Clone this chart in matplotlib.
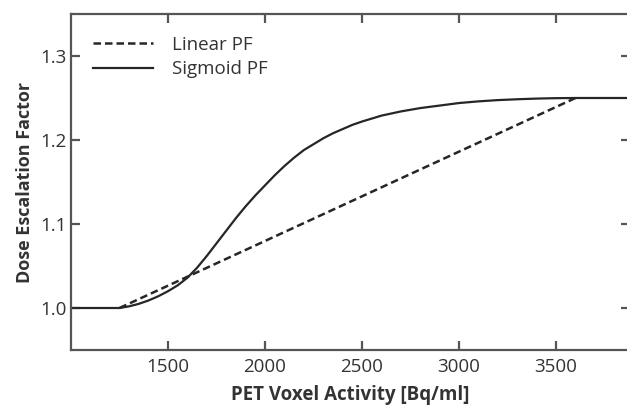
import numpy as np
import matplotlib.pyplot as plt

plt.rcParams['font.family'] = ['Open Sans', 'DejaVu Sans']

# sigmoid prescription function
sig_x = [1000, 1250, 1300, 1350, 1400, 1450, 1500, 1550, 1600, 1650, 1700, 1750,
         1800, 1850, 1900, 1950, 2000, 2050, 2100, 2150, 2200, 2250, 2300, 2350,
         2400, 2450, 2500, 2600, 2700, 2800, 2900, 3000, 3100, 3200, 3300, 3400,
         3500, 3600, 3900]
sig_y = [1.0, 1.0, 1.002, 1.005, 1.009, 1.014, 1.020, 1.027, 1.036, 1.048, 1.062, 1.077,
         1.092, 1.107, 1.121, 1.134, 1.146, 1.158, 1.169, 1.179, 1.188, 1.195, 1.202, 1.208,
         1.213, 1.218, 1.222, 1.229, 1.234, 1.238, 1.241, 1.244, 1.246, 1.2475, 1.2485, 1.2493,
         1.2498, 1.25, 1.25]

# linear prescription function
lin_x = [1250, 3600]
lin_y = [1.0, 1.25]

xticks = [1500, 2000, 2500, 3000, 3500]
yticks = [1.0, 1.1, 1.2, 1.3]

fig = plt.figure(figsize=(6.27, 4.07), dpi=100)
ax = fig.add_axes([71/627, 57/407, 559/627, 336/407])

line_col = '#262626'
ax.plot(lin_x, lin_y, color=line_col, lw=1.8, ls=(0, (3, 1.6)), label='Linear PF')
ax.plot(sig_x, sig_y, color=line_col, lw=1.6, label='Sigmoid PF')

ax.set_xlim(1000, 3881)
ax.set_ylim(0.95, 1.35)
ax.set_xticks(xticks)
ax.set_yticks(yticks)
ax.set_yticklabels(['%.1f' % v for v in yticks])

for s in ax.spines.values():
    s.set_color('#555555')
    s.set_linewidth(1.6)
ax.tick_params(direction='in', length=6.5, width=1.6, color='#555555',
               top=True, right=True, labelsize=13.5, labelcolor='#333333')
ax.tick_params(axis='y', pad=3)
ax.tick_params(axis='x', pad=6)

ax.set_xlabel('PET Voxel Activity [Bq/ml]', fontsize=13.5, fontweight='bold',
              color='#333333', labelpad=6)
ax.set_ylabel('Dose Escalation Factor', fontsize=13, fontweight='bold',
              color='#333333', labelpad=5)

ax.legend(loc='upper left', bbox_to_anchor=(0.039, 0.935), frameon=False,
          fontsize=13.5, handlelength=3.2, handletextpad=1.0, labelspacing=0.35,
          borderpad=0, borderaxespad=0, labelcolor='#333333')

plt.savefig('out.png', dpi=100)
